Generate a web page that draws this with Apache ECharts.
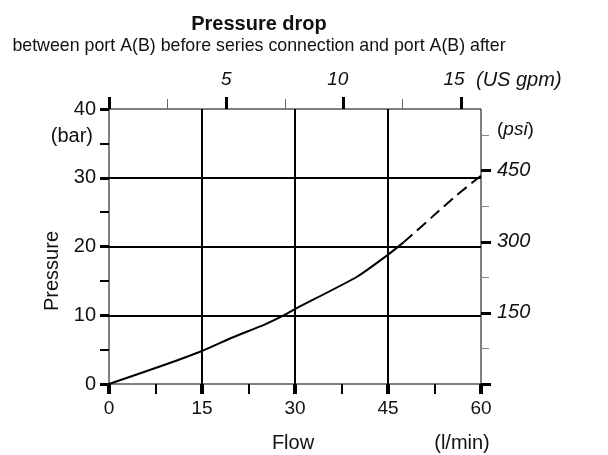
<!DOCTYPE html>
<html>
<head>
<meta charset="utf-8">
<script src="https://cdn.jsdelivr.net/npm/echarts@6/dist/echarts.min.js"></script>
<style>
  html, body { margin: 0; padding: 0; background: #fff; }
  #chart { width: 608px; height: 455px; }
</style>
</head>
<body>
<div id="chart"></div>
<script>
// flow in l/min, pressure drop in bar
var flowSolid = [0, 9, 15, 20, 25, 28, 30, 40, 45, 47.5];
var pressureSolid = [0, 2.8, 4.8, 6.8, 8.6, 9.9, 10.9, 15.6, 18.8, 20.6];
var flowDashed = [47.5, 52, 56, 60];
var pressureDashed = [20.6, 24.2, 27.4, 30.3];

var gpmMajor = [0, 5, 10, 15];
var gpmMinor = [2.5, 7.5, 12.5];
var gpmLabels = [5, 10, 15];
var psiMajor = [0, 150, 300, 450];
var psiMinor = [75, 225, 375, 525];
var psiLabels = [150, 300, 450];

var LPM_TO_GPM = 0.264172;
var BAR_TO_PSI = 14.5038;
var FONT = '"Liberation Sans", Arial, sans-serif';

function pairs(xs, ys) {
    var out = [];
    for (var i = 0; i < xs.length; i++) {
        out.push([xs[i], ys[i]]);
    }
    return out;
}

var gpmText = { fontSize: 19, fontStyle: 'italic', fontFamily: FONT, color: '#111' };

var myChart = echarts.init(document.getElementById('chart'));

var option = {
    backgroundColor: '#fff',
    animation: false,
    textStyle: { fontFamily: FONT, color: '#111' },
    grid: {
        left: 109, right: 127, top: 109, bottom: 71,
        show: true, borderColor: '#000', borderWidth: 1,
        containLabel: false
    },
    xAxis: [
        {
            type: 'value', position: 'bottom',
            min: 0, max: 60, interval: 15,
            axisLine: { show: false, onZero: false },
            axisTick: { show: true, inside: false, length: 10, lineStyle: { color: '#000', width: 4 } },
            minorTick: { show: true, splitNumber: 2, length: 10, lineStyle: { color: '#000', width: 2 } },
            splitLine: { show: true, showMinLine: false, showMaxLine: false, lineStyle: { color: '#000', width: 2 } },
            axisLabel: { fontSize: 19, color: '#111', margin: 15, fontFamily: FONT }
        },
        {
            type: 'value', position: 'top',
            min: 0, max: 60 * LPM_TO_GPM,
            axisLine: { show: false, onZero: false },
            axisTick: { show: true, customValues: gpmMajor, length: 12, lineStyle: { color: '#000', width: 3 } },
            splitLine: { show: false },
            axisLabel: {
                customValues: gpmLabels, margin: 20,
                fontSize: 19, fontStyle: 'italic', color: '#111', fontFamily: FONT,
                formatter: function (v) {
                    if (v === 5) return '{a|5}';
                    if (v === 10) return '{b|10}';
                    return '{c|' + v + '}';
                },
                rich: {
                    a: gpmText,
                    b: echarts.util.extend({ padding: [0, 12, 0, 0] }, gpmText),
                    c: echarts.util.extend({ padding: [0, 14, 0, 0] }, gpmText)
                }
            }
        },
        {
            type: 'value', position: 'top',
            min: 0, max: 60 * LPM_TO_GPM,
            axisLine: { show: false, onZero: false },
            axisTick: { show: true, customValues: gpmMinor, length: 10, lineStyle: { color: '#666', width: 1 } },
            splitLine: { show: false },
            axisLabel: { show: false }
        }
    ],
    yAxis: [
        {
            type: 'value', position: 'left',
            min: 0, max: 40, interval: 10,
            axisLine: { show: false, onZero: false },
            axisTick: { show: true, length: 9, lineStyle: { color: '#000', width: 3 } },
            minorTick: { show: true, splitNumber: 2, length: 9, lineStyle: { color: '#000', width: 2 } },
            splitLine: { show: true, showMinLine: false, showMaxLine: false, lineStyle: { color: '#000', width: 2 } },
            axisLabel: { fontSize: 20, color: '#111', margin: 13, fontFamily: FONT }
        },
        {
            type: 'value', position: 'right',
            min: 0, max: 40 * BAR_TO_PSI,
            axisLine: { show: false, onZero: false },
            axisTick: { show: true, customValues: psiMajor, length: 10, lineStyle: { color: '#000', width: 3 } },
            splitLine: { show: false },
            axisLabel: { customValues: psiLabels, fontSize: 20, fontStyle: 'italic', color: '#111', margin: 16, fontFamily: FONT }
        },
        {
            type: 'value', position: 'right',
            min: 0, max: 40 * BAR_TO_PSI,
            axisLine: { show: false, onZero: false },
            axisTick: { show: true, customValues: psiMinor, length: 8, lineStyle: { color: '#888', width: 1 } },
            splitLine: { show: false },
            axisLabel: { show: false }
        }
    ],
    graphic: [
        { type: 'text', x: 259, y: 24, style: { text: 'Pressure drop', font: 'bold 20px ' + FONT, fill: '#111', textAlign: 'center', textVerticalAlign: 'middle' } },
        { type: 'text', x: 259, y: 46, style: { text: 'between port A(B) before series connection and port A(B) after', font: '17.8px ' + FONT, fill: '#111', textAlign: 'center', textVerticalAlign: 'middle' } },
        { type: 'text', x: 52, y: 271, rotation: Math.PI / 2, style: { text: 'Pressure', font: '20px ' + FONT, fill: '#111', textAlign: 'center', textVerticalAlign: 'middle' } },
        { type: 'text', x: 93, y: 136, style: { text: '(bar)', font: '20px ' + FONT, fill: '#111', textAlign: 'right', textVerticalAlign: 'middle' } },
        { type: 'text', x: 293, y: 443, style: { text: 'Flow', font: '20px ' + FONT, fill: '#111', textAlign: 'center', textVerticalAlign: 'middle' } },
        { type: 'text', x: 462, y: 443, style: { text: '(l/min)', font: '20px ' + FONT, fill: '#111', textAlign: 'center', textVerticalAlign: 'middle' } },
        { type: 'text', x: 476, y: 80, style: { text: '(US gpm)', font: 'italic 20px ' + FONT, fill: '#111', textAlign: 'left', textVerticalAlign: 'middle' } },
        {
            type: 'text', x: 497, y: 130,
            style: {
                text: '{a|(}{b|psi}{a|)}',
                textAlign: 'left', textVerticalAlign: 'middle',
                rich: {
                    a: { fontSize: 19, fontFamily: FONT, fill: '#111' },
                    b: { fontSize: 19, fontFamily: FONT, fontStyle: 'italic', fill: '#111' }
                }
            }
        }
    ],
    series: [
        {
            type: 'line',
            xAxisIndex: 0, yAxisIndex: 0,
            data: pairs(flowSolid, pressureSolid),
            showSymbol: false,
            smooth: 0.2,
            lineStyle: { color: '#000', width: 2 }
        },
        {
            type: 'line',
            xAxisIndex: 0, yAxisIndex: 0,
            data: pairs(flowDashed, pressureDashed),
            showSymbol: false,
            smooth: 0.2,
            lineStyle: { color: '#000', width: 2, type: [12, 6] }
        }
    ]
};

myChart.setOption(option);
</script>
</body>
</html>
